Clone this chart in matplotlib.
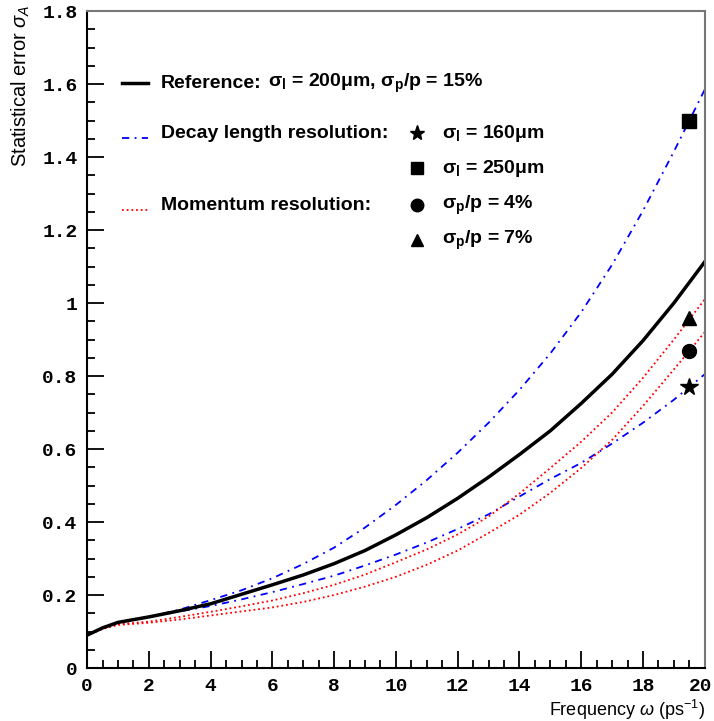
import matplotlib
matplotlib.use('Agg')
import matplotlib.pyplot as plt
from matplotlib.ticker import MultipleLocator, FuncFormatter

plt.rcParams['mathtext.fontset'] = 'custom'
plt.rcParams['mathtext.rm'] = 'Liberation Sans'
plt.rcParams['mathtext.it'] = 'Liberation Sans:italic'
plt.rcParams['mathtext.bf'] = 'Liberation Sans:bold'

# frequency omega (ps^-1)
omega = [0, 0.5, 1, 2, 3, 4, 5, 6, 7, 8, 9, 10, 11, 12, 13, 14, 15, 16, 17, 18, 19, 20]

# statistical error curves
ref     = [0.09, 0.11, 0.125, 0.14, 0.157, 0.176, 0.202, 0.228, 0.255, 0.286, 0.322, 0.365,
           0.412, 0.465, 0.523, 0.585, 0.65, 0.725, 0.805, 0.897, 1.0, 1.113]
dl_250  = [0.09, 0.11, 0.125, 0.14, 0.16, 0.186, 0.213, 0.246, 0.285, 0.33, 0.385, 0.447,
           0.515, 0.59, 0.672, 0.762, 0.862, 0.975, 1.105, 1.253, 1.415, 1.585]
dl_160  = [0.09, 0.11, 0.125, 0.14, 0.155, 0.17, 0.188, 0.208, 0.23, 0.253, 0.281, 0.311,
           0.344, 0.381, 0.421, 0.47, 0.518, 0.562, 0.615, 0.672, 0.735, 0.805]
mom_7   = [0.09, 0.108, 0.12, 0.127, 0.14, 0.154, 0.169, 0.185, 0.205, 0.228, 0.256, 0.29,
           0.325, 0.366, 0.415, 0.478, 0.548, 0.62, 0.7, 0.795, 0.9, 1.01]
mom_4   = [0.09, 0.107, 0.118, 0.124, 0.133, 0.144, 0.155, 0.166, 0.181, 0.2, 0.223, 0.25,
           0.283, 0.322, 0.37, 0.42, 0.48, 0.548, 0.625, 0.718, 0.818, 0.92]

# single points at omega = 19.5
pt_x = 19.5
pt_star, pt_square, pt_circle, pt_triangle = 0.77, 1.50, 0.87, 0.96

x_max = 20

dashdot = (0, (4, 3, 1, 3))
dotted = (0, (1, 1.6))

fig = plt.figure(figsize=(7.14, 7.21), dpi=100)
ax = fig.add_axes([0.122, 0.0735, 0.865, 0.911])

ax.plot(omega, dl_250, color='blue', linestyle=dashdot, lw=1.3)
ax.plot(omega, dl_160, color='blue', linestyle=dashdot, lw=1.3)
ax.plot(omega, mom_7, color='red', linestyle=dotted, lw=1.3)
ax.plot(omega, mom_4, color='red', linestyle=dotted, lw=1.3)
ax.plot(omega, ref, color='black', lw=2.5)

ax.plot(pt_x, pt_star, '*', color='black', ms=13)
ax.plot(pt_x, pt_square, 's', color='black', ms=10)
ax.plot(pt_x, pt_circle, 'o', color='black', ms=10)
ax.plot(pt_x, pt_triangle, '^', color='black', ms=10)

ax.set_xlim(0, x_max)
ax.set_ylim(0, 1.8)

# legend drawn by hand
bold = dict(fontsize=14, fontweight='bold', family='Liberation Sans', va='center')
ax.plot([1.13, 1.97], [1.603, 1.603], color='black', lw=2.5)
ax.text(2.39, 1.603, 'Reference:', **bold)
ax.text(5.85, 1.603, r'σ$_{\mathbf{l}}$ = 200μm, σ$_{\mathbf{p}}$/p = 15%', **bold)
ax.plot([1.13, 1.97], [1.452, 1.452], color='blue', linestyle=dashdot, lw=1.3)
ax.text(2.39, 1.466, 'Decay length resolution:', **bold)
ax.plot([1.13, 1.97], [1.255, 1.255], color='red', linestyle=dotted, lw=1.3)
ax.text(2.39, 1.268, 'Momentum resolution:', **bold)

ax.plot(10.68, 1.466, '*', color='black', ms=11)
ax.plot(10.68, 1.37, 's', color='black', ms=9)
ax.plot(10.68, 1.268, 'o', color='black', ms=9)
ax.plot(10.68, 1.173, '^', color='black', ms=9)
ax.text(11.49, 1.466, r'σ$_{\mathbf{l}}$ = 160μm', **bold)
ax.text(11.49, 1.37, r'σ$_{\mathbf{l}}$ = 250μm', **bold)
ax.text(11.49, 1.268, r'σ$_{\mathbf{p}}$/p = 4%', **bold)
ax.text(11.49, 1.173, r'σ$_{\mathbf{p}}$/p = 7%', **bold)

# axes styling
ax.xaxis.set_major_locator(MultipleLocator(2))
ax.xaxis.set_minor_locator(MultipleLocator(0.5))
ax.yaxis.set_major_locator(MultipleLocator(0.2))
ax.yaxis.set_minor_locator(MultipleLocator(0.05))
# the last x label is drawn separately so it stays inside the figure
ax.xaxis.set_major_formatter(FuncFormatter(lambda v, p: '' if v >= x_max else '%g' % v))
ax.yaxis.set_major_formatter(FuncFormatter(lambda v, p: '%g' % round(v, 2)))
ax.tick_params(which='both', direction='in', top=False, right=False, width=1.3)
ax.tick_params(which='major', length=12, pad=7)
ax.tick_params(which='minor', length=6)
for lab in ax.get_xticklabels() + ax.get_yticklabels():
    lab.set_family('Liberation Mono')
    lab.set_fontweight('bold')
    lab.set_fontsize(14)
ax.annotate('%g' % x_max, xy=(x_max, 0), xycoords=('data', 'axes fraction'),
            xytext=(-3, -7), textcoords='offset points', ha='center', va='top',
            family='Liberation Mono', fontweight='bold', fontsize=14)

for side in ['left', 'bottom']:
    ax.spines[side].set_linewidth(1.5)
    ax.spines[side].set_color('black')
for side in ['top', 'right']:
    ax.spines[side].set_linewidth(1.5)
    ax.spines[side].set_color('#777777')

ax.set_xlabel(r'Frequency $\omega$ (ps$^{-1}$)', fontsize=13, family='Liberation Sans', loc='right')
ax.xaxis.set_label_coords(1.0, -0.045)
ax.set_ylabel(r'Statistical error $\sigma_A$', fontsize=14.5, family='Liberation Sans', loc='top')
ax.yaxis.set_label_coords(-0.09, 1.01)

fig.savefig('out.png', dpi=100)
